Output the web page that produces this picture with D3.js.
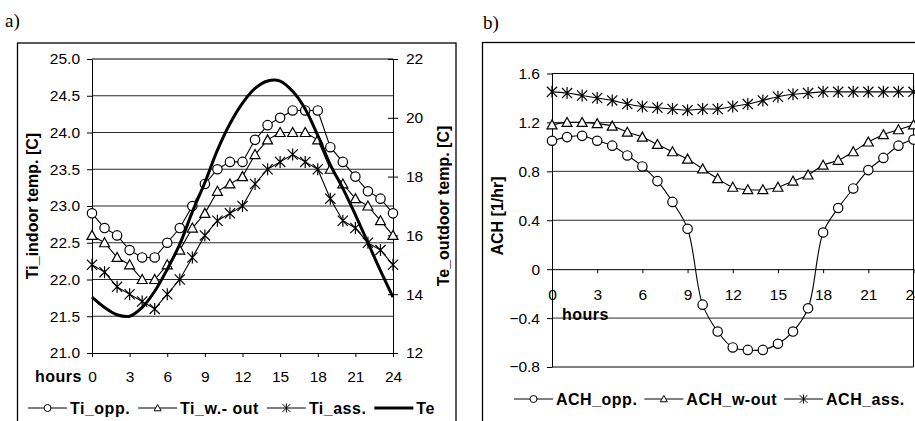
<!DOCTYPE html>
<html lang="en">
<head>
<meta charset="UTF-8">
<title>Ti / ACH</title>
<script src="https://d3js.org/d3.v7.min.js"></script>
<style>
  body { margin: 0; background: #fff; }
  text { font-family: "Liberation Sans", Arial, sans-serif; fill: #000; }
  .grid line { stroke: #2a2a2a; stroke-width: 1; }
  .axis path, .axis line { stroke: #000; stroke-width: 1; }
  .bold { font-weight: bold; font-size: 16px; }
</style>
</head>
<body>
<svg width="915" height="421"></svg>
<script>
// ---- data ----
var hours = [0, 1, 2, 3, 4, 5, 6, 7, 8, 9, 10, 11, 12, 13, 14, 15, 16, 17, 18, 19, 20, 21, 22, 23, 24];
var hourTicks = [0, 3, 6, 9, 12, 15, 18, 21, 24];
var tiTicks = [21.0, 21.5, 22.0, 22.5, 23.0, 23.5, 24.0, 24.5, 25.0];
var teTicks = [12, 14, 16, 18, 20, 22];
var achTicks = [-0.8, -0.4, 0, 0.4, 0.8, 1.2, 1.6];

var tiOpp  = [22.9, 22.7, 22.6, 22.4, 22.3, 22.3, 22.5, 22.7, 23.0, 23.3, 23.5, 23.6, 23.6, 23.9, 24.1, 24.2, 24.3, 24.3, 24.3, 23.8, 23.6, 23.4, 23.2, 23.1, 22.9];
var tiWout = [22.6, 22.5, 22.3, 22.2, 22.0, 22.0, 22.2, 22.4, 22.7, 22.9, 23.2, 23.3, 23.4, 23.7, 23.9, 24.0, 24.0, 24.0, 23.9, 23.5, 23.3, 23.1, 23.0, 22.8, 22.6];
var tiAss  = [22.2, 22.1, 21.9, 21.8, 21.7, 21.6, 21.8, 22.0, 22.3, 22.6, 22.8, 22.9, 23.0, 23.3, 23.5, 23.6, 23.7, 23.6, 23.5, 23.1, 22.8, 22.7, 22.5, 22.4, 22.2];
var te     = [13.9, 13.55, 13.3, 13.25, 13.55, 14.1, 14.85, 15.7, 16.8, 17.8, 18.9, 19.8, 20.5, 21.0, 21.25, 21.25, 20.9, 20.3, 19.4, 18.4, 17.6, 16.7, 15.75, 14.8, 13.9];

var achOpp  = [1.05, 1.08, 1.09, 1.05, 1.01, 0.93, 0.84, 0.72, 0.55, 0.33, -0.29, -0.51, -0.64, -0.66, -0.66, -0.61, -0.51, -0.32, 0.30, 0.50, 0.66, 0.81, 0.91, 1.01, 1.06];
var achWout = [1.18, 1.20, 1.20, 1.19, 1.17, 1.12, 1.08, 1.02, 0.96, 0.90, 0.82, 0.74, 0.67, 0.65, 0.65, 0.67, 0.72, 0.77, 0.85, 0.89, 0.96, 1.04, 1.10, 1.14, 1.18];
var achAss  = [1.45, 1.44, 1.42, 1.40, 1.38, 1.35, 1.33, 1.32, 1.31, 1.30, 1.31, 1.31, 1.33, 1.35, 1.38, 1.41, 1.43, 1.44, 1.45, 1.45, 1.45, 1.45, 1.45, 1.45, 1.45];

var tiNames  = ["Ti_opp.", "Ti_w.- out", "Ti_ass.", "Te"];
var achNames = ["ACH_opp.", "ACH_w-out", "ACH_ass."];
var markers  = ["circle", "tri", "star"];

var svg = d3.select("svg");

// marker shapes
function markerPath(type, s) {
    if (type == "circle") return "M" + (-s) + ",0a" + s + "," + s + " 0 1,0 " + (2 * s) + ",0a" + s + "," + s + " 0 1,0 " + (-2 * s) + ",0";
    if (type == "tri") return "M0," + (-s) + "L" + s + "," + (s * 0.8) + "L" + (-s) + "," + (s * 0.8) + "Z";
    var k = s * 0.85;
    return "M" + (-k) + "," + (-k) + "L" + k + "," + k + "M" + (-k) + "," + k + "L" + k + "," + (-k) + "M0," + (-s) + "V" + s;
}

function markerSize(type) {
    return type == "star" ? 6 : (type == "tri" ? 5 : 4.7);
}

function drawSeries(g, x, y, values, type, curve) {
    var pts = hours.map(function (h, i) { return [h, values[i]]; });
    g.append("path")
        .attr("d", d3.line().x(function (d) { return x(d[0]); }).y(function (d) { return y(d[1]); }).curve(curve)(pts))
        .attr("fill", "none").attr("stroke", "#000").attr("stroke-width", 1.1);
    g.selectAll(null).data(pts).enter().append("path")
        .attr("transform", function (d) { return "translate(" + x(d[0]) + "," + y(d[1]) + ")"; })
        .attr("d", markerPath(type, markerSize(type)))
        .attr("fill", "#fff").attr("stroke", "#000").attr("stroke-width", 1.2);
}

function legend(g, x0, y, names, types, gap) {
    var x = x0;
    names.forEach(function (n, i) {
        var t = types[i];
        g.append("line").attr("x1", x).attr("x2", x + 39).attr("y1", y).attr("y2", y)
            .attr("stroke", "#000").attr("stroke-width", t == "thick" ? 3 : 1);
        if (t != "thick") {
            g.append("path").attr("transform", "translate(" + (x + 19.5) + "," + y + ")")
                .attr("d", markerPath(t, t == "star" ? 4.5 : 3.5)).attr("fill", "#fff").attr("stroke", "#000");
        }
        var tx = g.append("text").attr("class", "bold").attr("x", x + 42).attr("y", y + 5.5)
            .attr("letter-spacing", 0.5).text(n);
        x = x + 42 + tx.node().getComputedTextLength() + gap;
    });
}

// ---------- panel a ----------
svg.append("text").attr("x", 5).attr("y", 27).style("font-family", "'Liberation Serif', serif").style("font-size", "19px").text("a)");
svg.append("rect").attr("x", 17.5).attr("y", 43).attr("width", 438.5).attr("height", 400)
    .attr("fill", "none").attr("stroke", "#000").attr("stroke-width", 1.3);

var xa = d3.scaleLinear().domain([0, 24]).range([92, 393]);
var ya = d3.scaleLinear().domain([21, 25]).range([353, 59]);
var yt = d3.scaleLinear().domain([12, 22]).range([353, 59]);

var ga = svg.append("g");
ga.append("g").attr("class", "grid").selectAll("line").data(tiTicks.slice(1)).enter().append("line")
    .attr("x1", xa(0)).attr("x2", xa(24)).attr("y1", function (d) { return ya(d); }).attr("y2", function (d) { return ya(d); })
    .style("stroke", function (d) { return d == 25 ? "#000" : null; });

var axL = ga.append("g").attr("class", "axis").attr("transform", "translate(" + xa(0) + ",0)")
    .call(d3.axisLeft(ya).tickValues(tiTicks).tickFormat(d3.format(".1f")).tickSize(5).tickSizeOuter(0).tickPadding(7));
var axR = ga.append("g").attr("class", "axis").attr("transform", "translate(" + xa(24) + ",0)")
    .call(d3.axisRight(yt).tickValues(teTicks).tickFormat(d3.format("d")).tickSize(5).tickSizeOuter(0).tickPadding(8));
axR.selectAll(".tick line").attr("x1", -5);
var axB = ga.append("g").attr("class", "axis").attr("transform", "translate(0," + ya(21) + ")")
    .call(d3.axisBottom(xa).tickValues(hourTicks).tickSize(4).tickSizeOuter(0));
axB.selectAll("text").attr("y", 29).attr("dy", null);
[axL, axR, axB].forEach(function (a) {
    a.attr("font-family", null).attr("font-size", null);
    a.selectAll("text").style("font-size", "15.5px");
});

ga.append("text").attr("class", "bold").attr("x", 82).attr("y", 382).attr("text-anchor", "end").attr("letter-spacing", 0.5).text("hours");
ga.append("text").attr("class", "bold").attr("text-anchor", "middle").attr("transform", "translate(38,206) rotate(-90)").text("Ti_indoor temp. [C]");
ga.append("text").attr("class", "bold").attr("text-anchor", "middle").attr("transform", "translate(449,206) rotate(-90)").text("Te_outdoor temp. [C]");

drawSeries(ga, xa, ya, tiOpp, "circle", d3.curveLinear);
drawSeries(ga, xa, ya, tiWout, "tri", d3.curveLinear);
drawSeries(ga, xa, ya, tiAss, "star", d3.curveLinear);
ga.append("path")
    .attr("d", d3.line().x(function (d, i) { return xa(hours[i]); }).y(function (d) { return yt(d); }).curve(d3.curveCatmullRom)(te))
    .attr("fill", "none").attr("stroke", "#000").attr("stroke-width", 3);

legend(ga, 28, 408, tiNames, markers.concat(["thick"]), 8);

// ---------- panel b ----------
svg.append("text").attr("x", 483).attr("y", 29).style("font-family", "'Liberation Serif', serif").style("font-size", "19px").text("b)");
svg.append("rect").attr("x", 482.5).attr("y", 42.5).attr("width", 460).attr("height", 400)
    .attr("fill", "none").attr("stroke", "#000").attr("stroke-width", 1.3);

var xb = d3.scaleLinear().domain([0, 24]).range([552, 913.5]);
var yb = d3.scaleLinear().domain([-0.8, 1.6]).range([367, 73.5]);

var gb = svg.append("g");
gb.append("g").attr("class", "grid").selectAll("line").data(achTicks.filter(function (d) { return d != 0; })).enter().append("line")
    .attr("x1", xb(0)).attr("x2", xb(24)).attr("y1", function (d) { return yb(d); }).attr("y2", function (d) { return yb(d); })
    .style("stroke", function (d) { return (d == 1.6 || d == -0.8) ? "#000" : null; });
gb.append("line").attr("x1", xb(24)).attr("x2", xb(24)).attr("y1", yb(1.6)).attr("y2", yb(-0.8)).attr("stroke", "#000");

var bL = gb.append("g").attr("class", "axis").attr("transform", "translate(" + xb(0) + ",0)")
    .call(d3.axisLeft(yb).tickValues(achTicks).tickFormat(function (d) { return d == 0 ? "0" : d3.format(".1f")(d); }).tickSize(5).tickSizeOuter(0).tickPadding(7));
var bB = gb.append("g").attr("class", "axis").attr("transform", "translate(0," + yb(0) + ")")
    .call(d3.axisBottom(xb).tickValues(hourTicks).tickSize(4).tickSizeOuter(0));
bB.selectAll("text").attr("y", 31).attr("dy", null);
[bL, bB].forEach(function (a) {
    a.attr("font-family", null).attr("font-size", null);
    a.selectAll("text").style("font-size", "15.5px");
});

gb.append("text").attr("class", "bold").attr("x", 562).attr("y", 320).attr("letter-spacing", 0.5).text("hours");
gb.append("text").attr("class", "bold").attr("text-anchor", "middle").attr("transform", "translate(503,216) rotate(-90)").text("ACH [1/hr]");

drawSeries(gb, xb, yb, achOpp, "circle", d3.curveCatmullRom);
drawSeries(gb, xb, yb, achWout, "tri", d3.curveCatmullRom);
drawSeries(gb, xb, yb, achAss, "star", d3.curveCatmullRom);

legend(gb, 514, 399, achNames, markers, 7);
</script>
</body>
</html>
